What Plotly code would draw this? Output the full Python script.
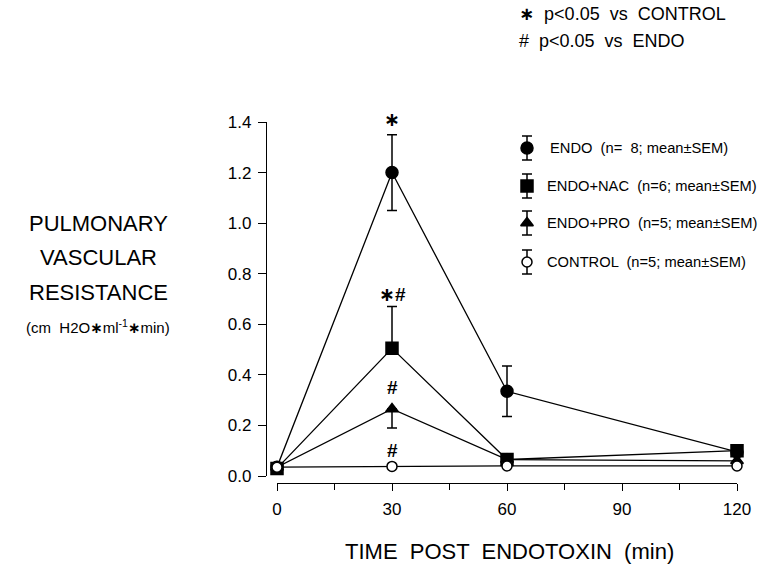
import plotly.graph_objects as go

time = [0, 30, 60, 120]

endo = [0.035, 1.20, 0.335, 0.095]
endo_up = [0, 0.15, 0.10, 0]
endo_dn = [0, 0.15, 0.10, 0]

nac = [0.030, 0.505, 0.065, 0.100]
nac_up = [0, 0.165, 0, 0]
nac_dn = [0, 0, 0, 0]

pro = [0.035, 0.265, 0.065, 0.060]
pro_up = [0, 0, 0, 0]
pro_dn = [0, 0.075, 0, 0]

control = [0.035, 0.038, 0.040, 0.040]
ctrl_up = [0, 0, 0, 0]
ctrl_dn = [0, 0, 0, 0]

legend_labels = [
    "ENDO  (n=  8; mean±SEM)",
    "ENDO+NAC  (n=6; mean±SEM)",
    "ENDO+PRO  (n=5; mean±SEM)",
    "CONTROL  (n=5; mean±SEM)",
]
sig_x = [30, 30, 30, 30]
sig_y = [1.36, 0.67, 0.30, 0.052]
sig_text = ["∗", "∗#", "#", "#"]

W, H = 762, 565
FONT = "Liberation Sans, Arial, DejaVu Sans, sans-serif"


def px(x):
    return x / W


def py(y):
    return 1 - y / H


symbols = ["circle", "square", "triangle-up", "circle"]
fills = ["black", "black", "black", "white"]
sizes = [12, 12, 11, 10]
series = [
    (endo, endo_up, endo_dn),
    (nac, nac_up, nac_dn),
    (pro, pro_up, pro_dn),
    (control, ctrl_up, ctrl_dn),
]

fig = go.Figure()
for (vals, up, dn), sym, fc, sz in zip(series, symbols, fills, sizes):
    fig.add_trace(go.Scatter(
        x=time, y=vals, mode="lines+markers",
        line=dict(color="black", width=1.3),
        marker=dict(symbol=sym, size=sz, color=fc, line=dict(color="black", width=1.5)),
        error_y=dict(type="data", symmetric=False, array=up, arrayminus=dn,
                     color="black", thickness=1.5, width=5),
        cliponaxis=False, showlegend=False,
    ))

# legend drawn on a separate full-figure axis pair in pixel coordinates
leg_y = [148, 186, 223, 262]
for i, (sym, fc, sz) in enumerate(zip(symbols, fills, sizes)):
    fig.add_trace(go.Scatter(
        x=[527], y=[leg_y[i]], mode="markers", xaxis="x3", yaxis="y3",
        marker=dict(symbol=sym, size=sz, color=fc, line=dict(color="black", width=1.5)),
        error_y=dict(type="constant", value=12, color="black", thickness=1.5, width=5),
        cliponaxis=False, showlegend=False, hoverinfo="skip",
    ))
    fig.add_annotation(x=px(548 if i == 0 else 545), y=py(leg_y[i]), xref="paper", yref="paper",
                       text=legend_labels[i], showarrow=False, xanchor="left",
                       yanchor="middle", font=dict(size=14.7, family=FONT, color="black"))

for sx, sy, st in zip(sig_x, sig_y, sig_text):
    fig.add_annotation(x=sx, y=sy, text="<b>" + st + "</b>", showarrow=False, yanchor="bottom",
                       xanchor="center", font=dict(size=19, family=FONT, color="black"))

# top notes
fig.add_annotation(x=px(517), y=py(14), xref="paper", yref="paper",
                   text="<b>∗</b>  p<0.05  vs  CONTROL",
                   showarrow=False, xanchor="left", yanchor="middle",
                   font=dict(size=18, family=FONT, color="black"))
fig.add_annotation(x=px(517), y=py(41), xref="paper", yref="paper",
                   text="#  p<0.05  vs  ENDO",
                   showarrow=False, xanchor="left", yanchor="middle",
                   font=dict(size=18, family=FONT, color="black"))

# y title
for txt, yy in [("PULMONARY", 223), ("VASCULAR", 257), ("RESISTANCE", 292)]:
    fig.add_annotation(x=px(98), y=py(yy), xref="paper", yref="paper", text=txt,
                       showarrow=False, xanchor="center", yanchor="middle",
                       font=dict(size=22, family=FONT, color="black"))
fig.add_annotation(x=px(98), y=py(326), xref="paper", yref="paper",
                   text="(cm  H2O<b>∗</b>ml<sup>-1</sup><b>∗</b>min)", showarrow=False,
                   xanchor="center", yanchor="middle",
                   font=dict(size=15, family=FONT, color="black"))

# x title
fig.add_annotation(x=px(509), y=py(551), xref="paper", yref="paper",
                   text="TIME  POST  ENDOTOXIN  (min)", showarrow=False,
                   xanchor="center", yanchor="middle",
                   font=dict(size=22, family=FONT, color="black"))

fig.update_layout(
    width=W, height=H,
    margin=dict(l=0, r=0, t=0, b=0, pad=0, autoexpand=False),
    paper_bgcolor="white", plot_bgcolor="rgba(0,0,0,0)",
    font=dict(family=FONT, color="black"),
    xaxis=dict(domain=[277 / W, 737 / W], range=[0, 120], anchor="free",
               position=(H - 483) / H, tickvals=[0, 30, 60, 90, 120], automargin=False,
               ticks="outside", ticklen=7, tickwidth=1.3, tickcolor="black", showline=True,
               linecolor="black", linewidth=1.3, showgrid=False, zeroline=False,
               tickfont=dict(size=17, family=FONT), ticklabelstandoff=3,
               minor=dict(tickvals=[15, 45, 75, 105], ticks="outside", ticklen=6,
                          tickwidth=1.3, tickcolor="black")),
    yaxis=dict(domain=[(H - 476) / H, (H - 122) / H], range=[0, 1.4], anchor="free",
               position=266 / W, tickvals=[0, 0.2, 0.4, 0.6, 0.8, 1.0, 1.2, 1.4],
               automargin=False,
               tickformat=".1f", ticks="outside", ticklen=8, tickwidth=1.3, tickcolor="black",
               showline=True, linecolor="black", linewidth=1.3, showgrid=False,
               zeroline=False, tickfont=dict(size=17, family=FONT), ticklabelstandoff=3),
    xaxis3=dict(domain=[0, 1], range=[0, W], visible=False, anchor="y3", automargin=False),
    yaxis3=dict(domain=[0, 1], range=[H, 0], visible=False, anchor="x3", automargin=False),
)

fig.write_html("out.html", config={"displayModeBar": False},
               post_script="document.body.style.margin='0';")
